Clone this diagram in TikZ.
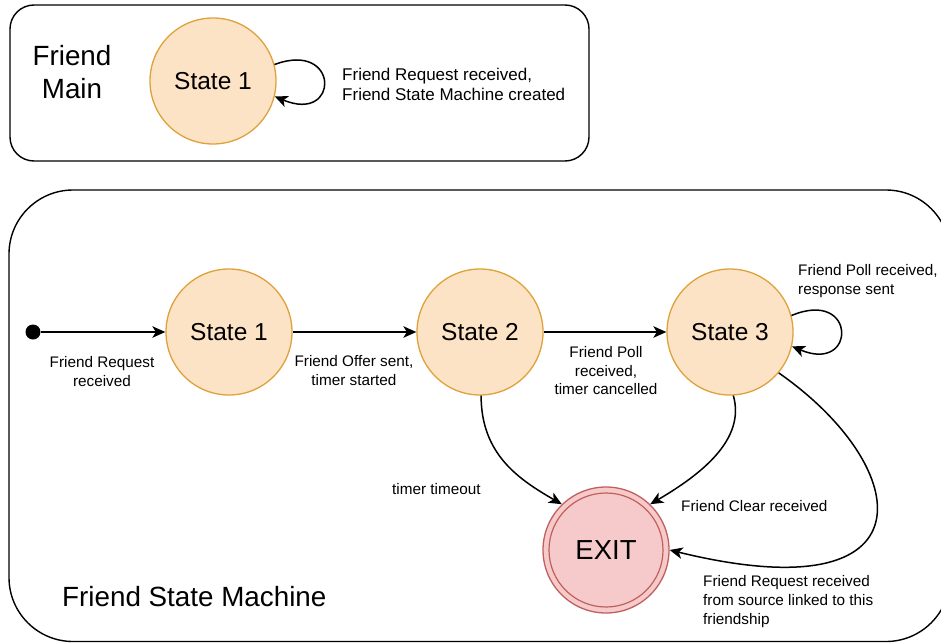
\documentclass[tikz,border=0pt]{standalone}
\usepackage{fontspec}
\setmainfont{Liberation Sans}
\usetikzlibrary{arrows.meta}
\definecolor{stfill}{HTML}{FDE3C6}
\definecolor{stline}{HTML}{DDA23A}
\definecolor{exfill}{HTML}{F6CACA}
\definecolor{exline}{HTML}{C0605C}
\tikzset{
  frame/.style={draw=black, line width=1.4pt},
  state/.style={circle, draw=stline, fill=stfill, line width=1.3pt,
    minimum size=126pt, inner sep=0pt, font=\fontsize{24.5}{28}\selectfont},
  finalstate/.style={circle, draw=exline, fill=exfill, line width=1.3pt,
    minimum size=126pt, inner sep=0pt, font=\fontsize{27.5}{31}\selectfont},
  conn/.style={draw=black, line width=1.5pt,
    -{Stealth[length=13pt,width=11.5pt,inset=3.5pt]}},
  lbl/.style={inner sep=0pt, font=\fontsize{15.3}{19}\selectfont},
  title/.style={inner sep=0pt, font=\fontsize{27.8}{33}\selectfont},
}
\begin{document}
\begin{tikzpicture}[x=1pt,y=-1pt]
\useasboundingbox (0,0) rectangle (941,642);
\clip (0,0) rectangle (941,642);

% Friend Main container
\draw[frame, rounded corners=24pt] (10,5) rectangle (589,161);
\node[title, align=center] (mainlbl) at (72,72.5) {Friend\\Main};
\node[state] (m1) at (213,81) {State 1};
\draw[conn] (m1.15) .. controls (340,40) and (340,124) .. (m1.-14);
\node[inner sep=0pt, font=\fontsize{17}{20}\selectfont, align=left, anchor=west]
  (m1loop) at (342,84) {Friend Request received,\\Friend State Machine created};

% Friend State Machine container
\draw[frame, rounded corners=64pt] (9,190) rectangle (950,641.5);
\node[title, anchor=west] (fsmlbl) at (62,597) {Friend State Machine};

\node[circle, fill=black, minimum size=15pt, inner sep=0pt] (start) at (33,332) {};
\node[state] (s1) at (229,332) {State 1};
\node[state] (s2) at (480,332) {State 2};
\node[state] (s3) at (730,332) {State 3};
\node[finalstate] (exit) at (606,550) {EXIT};
\draw[exline, line width=1.2pt] (exit.center) circle[radius=57];

% transitions
\draw[conn] (start) -- (s1);
\draw[conn] (s1) -- (s2);
\draw[conn] (s2) -- (s3);
\draw[conn] (s3.15) .. controls (857,288) and (857,374) .. (s3.-13);
\draw[conn] (s2.-89) .. controls (481,455) and (520,480) .. (exit.134);
\draw[conn] (s3.-87) .. controls (746,440) and (700,475) .. (exit.46);
\draw[conn] (s3.-40) .. controls (915,468) and (935,615) .. (exit.east);

% transition labels
\node[lbl, align=center] (l1) at (102,372) {Friend Request\\received};
\node[lbl, align=center] (l2) at (354,371) {Friend Offer sent,\\timer started};
\node[lbl, align=center, font=\fontsize{15.3}{18.5}\selectfont] (l3) at (606,371)
  {Friend Poll\\received,\\timer cancelled};
\node[lbl, align=left, anchor=west] (l4) at (798,281.5) {Friend Poll received,\\response sent};
\node[lbl, anchor=west] (l5) at (392,489) {timer timeout};
\node[lbl, anchor=west] (l6) at (681,506) {Friend Clear received};
\node[lbl, align=left, anchor=west] (l7) at (703,602)
  {Friend Request received\\from source linked to this\\friendship};
\end{tikzpicture}
\end{document}
